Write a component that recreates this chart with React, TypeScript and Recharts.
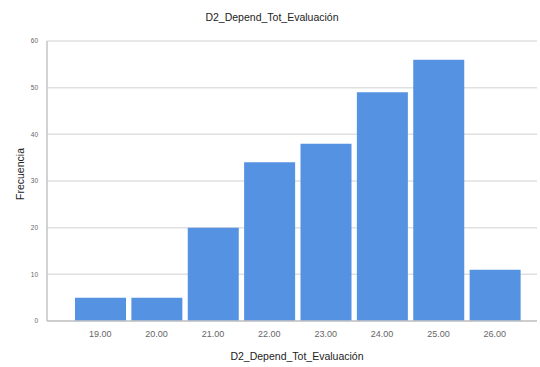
import { BarChart, Bar, XAxis, YAxis, CartesianGrid } from 'recharts';

const categories = ['19.00', '20.00', '21.00', '22.00', '23.00', '24.00', '25.00', '26.00'];
const frequencies = [5, 5, 20, 34, 38, 49, 56, 11];
const yTicks = [0, 10, 20, 30, 40, 50, 60];

const data = categories.map((c, i) => ({ name: c, value: frequencies[i] }));

const FONT = 'Arial, "Liberation Sans", sans-serif';

export default function App() {
  return (
    <div style={{ position: 'absolute', left: 0, top: 0, width: 540, height: 367, background: '#fff' }}>
      <BarChart
        width={540}
        height={367}
        data={data}
        margin={{ top: 41, right: 3, bottom: 26, left: 0 }}
      >
        <text x={272} y={21} textAnchor="middle" fontFamily={FONT} fontSize={10.5} fill="#222">
          D2_Depend_Tot_Evaluación
        </text>
        <text
          x={24}
          y={174}
          textAnchor="middle"
          fontFamily={FONT}
          fontSize={10.5}
          fill="#222"
          transform="rotate(-90 24 174)"
        >
          Frecuencia
        </text>
        <text x={297} y={360} textAnchor="middle" fontFamily={FONT} fontSize={10.5} fill="#222">
          D2_Depend_Tot_Evaluación
        </text>
        <CartesianGrid vertical={false} stroke="#e0e0e0" strokeWidth={1.5} />
        <XAxis
          dataKey="name"
          height={20}
          padding={{ left: 25, right: 14 }}
          tickLine={false}
          axisLine={{ stroke: '#c4c4c4', strokeWidth: 1.5 }}
          tick={{ fontFamily: FONT, fontSize: 9, fill: '#666' }}
          tickMargin={4}
          interval={0}
        />
        <YAxis
          width={47}
          domain={[0, 60]}
          ticks={yTicks}
          tickLine={false}
          axisLine={{ stroke: '#c4c4c4', strokeWidth: 1.5 }}
          tick={{ fontFamily: FONT, fontSize: 6.5, fill: '#666' }}
          tickMargin={3}
        />
        <Bar dataKey="value" fill="#5592e2" barSize={51} isAnimationActive={false} />
      </BarChart>
    </div>
  );
}
